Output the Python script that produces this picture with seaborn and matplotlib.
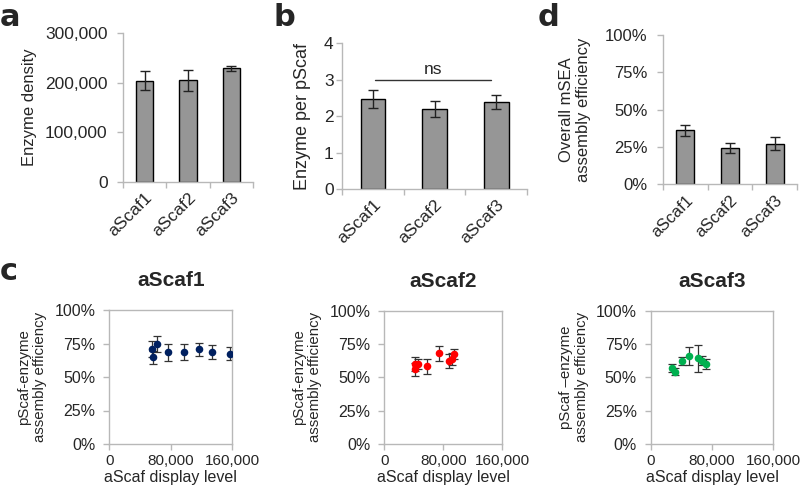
import matplotlib
matplotlib.use("Agg")
import matplotlib.pyplot as plt
import seaborn as sns
import numpy as np
import pandas as pd
from matplotlib.ticker import FuncFormatter, FixedLocator

# ---------------- data ----------------
categories = ["aScaf1", "aScaf2", "aScaf3"]

density_vals = [204000, 205000, 229000]
density_err = [19000, 21000, 5000]

per_pscaf_vals = [2.48, 2.20, 2.39]
per_pscaf_err = [0.25, 0.22, 0.20]

overall_vals = [0.36, 0.24, 0.27]
overall_err = [0.036, 0.034, 0.043]

s1_x = [55150, 57240, 61640, 76800, 97200, 117100, 133600, 156600]
s1_y = [0.707, 0.647, 0.744, 0.684, 0.687, 0.707, 0.687, 0.674]
s1_e = [0.060, 0.050, 0.060, 0.065, 0.060, 0.050, 0.055, 0.050]

s2_x = [41600, 41600, 45300, 57500, 73800, 87300, 92200, 94900]
s2_y = [0.600, 0.560, 0.600, 0.583, 0.680, 0.622, 0.635, 0.675]
s2_e = [0.050, 0.050, 0.040, 0.055, 0.057, 0.050, 0.045, 0.040]

s3_x = [27400, 31700, 40500, 50400, 62100, 66600, 71800]
s3_y = [0.568, 0.542, 0.623, 0.660, 0.643, 0.625, 0.600]
s3_e = [0.030, 0.025, 0.032, 0.065, 0.100, 0.035, 0.034]

scatter_titles = ["aScaf1", "aScaf2", "aScaf3"]
scatter_colors = ["#002060", "#ff0000", "#00b050"]
scatter_ylabels = ["pScaf-enzyme\nassembly efficiency",
                   "pScaf-enzyme\nassembly efficiency",
                   "pScaf \u2013enzyme\nassembly efficiency"]

# ---------------- style ----------------
sns.set_style("white")
plt.rcParams["font.family"] = ["Liberation Sans", "DejaVu Sans"]
SPINE = "#b8b8b8"
BAR = "#969696"

fig = plt.figure(figsize=(8.0, 4.91), dpi=100)
W, H = 800.0, 491.0


def box(l, r, t, b):
    return [l / W, 1 - b / H, (r - l) / W, (b - t) / H]


def style_bar_axes(ax, fs, ypad):
    sns.despine(ax=ax)
    for sp in ["left", "bottom"]:
        ax.spines[sp].set_color(SPINE)
        ax.spines[sp].set_linewidth(1.0)
    ax.set_xlim(-0.5, 2.5)
    ax.xaxis.set_minor_locator(FixedLocator([-0.5, 0.5, 1.5, 2.5]))
    ax.tick_params(axis="x", which="minor", length=4, width=1, color=SPINE, direction="out", bottom=True)
    ax.tick_params(axis="x", which="major", length=0, pad=6, labelsize=fs)
    ax.tick_params(axis="y", which="major", length=4, width=1, color=SPINE, direction="out",
                   left=True, labelsize=fs, pad=ypad)
    for lab in ax.get_xticklabels():
        lab.set_rotation(45)
        lab.set_ha("right")
        lab.set_rotation_mode("anchor")
    ax.set_xlabel("")


def bar_panel(rect, vals, errs, ylim, yticks, fmt, ylabel, fs, ylabfs, ypad, labpad):
    ax = fig.add_axes(rect)
    df = pd.DataFrame({"cat": categories, "val": vals})
    sns.barplot(data=df, x="cat", y="val", ax=ax, color=BAR, width=0.4,
                edgecolor="black", linewidth=1.0, saturation=1, errorbar=None)
    ax.errorbar(np.arange(len(categories)), vals, yerr=errs, fmt="none",
                ecolor="#222222", elinewidth=1.0, capsize=3.5, capthick=1.0)
    ax.set_ylim(*ylim)
    ax.set_yticks(yticks)
    ax.yaxis.set_major_formatter(FuncFormatter(fmt))
    ax.set_ylabel(ylabel, fontsize=ylabfs, labelpad=labpad)
    style_bar_axes(ax, fs, ypad)
    return ax


# panel a
ax_a = bar_panel(box(123, 253, 33, 182), density_vals, density_err, (0, 300000),
                 [0, 100000, 200000, 300000], lambda v, p: f"{int(v):,}",
                 "Enzyme density", 12.5, 12, 7, 6)

# panel b
ax_b = bar_panel(box(342, 527, 43.3, 189), per_pscaf_vals, per_pscaf_err, (0, 4),
                 [0, 1, 2, 3, 4], lambda v, p: f"{int(v)}",
                 "Enzyme per pScaf", 12.5, 13, 2, 9)
ax_b.plot([0.04, 1.92], [3.0, 3.0], color="#333333", lw=1.0)
ax_b.text(0.98, 3.08, "ns", ha="center", va="bottom", fontsize=12.5)

# panel d
ax_d = bar_panel(box(663, 797, 34.7, 184.3), overall_vals, overall_err, (0, 1),
                 [0, 0.25, 0.5, 0.75, 1.0], lambda v, p: f"{int(round(v * 100))}%",
                 "Overall mSEA\nassembly efficiency", 12, 12, 7, 10)

# panel c scatter
scatter_boxes = [box(109.3, 232.3, 310, 444),
                 box(384.3, 502.3, 310.7, 444),
                 box(650.7, 773.3, 310.7, 444)]
scatter_data = [(s1_x, s1_y, s1_e), (s2_x, s2_y, s2_e), (s3_x, s3_y, s3_e)]

for rect, (xs, ys, es), col, title, ylab in zip(scatter_boxes, scatter_data,
                                                 scatter_colors, scatter_titles, scatter_ylabels):
    ax = fig.add_axes(rect)
    ax.errorbar(xs, ys, yerr=es, fmt="none", ecolor="#333333", elinewidth=0.9,
                capsize=3, capthick=0.9, zorder=2)
    df = pd.DataFrame({"x": xs, "y": ys})
    sns.scatterplot(data=df, x="x", y="y", ax=ax, color=col, s=30,
                    edgecolor=col, linewidth=0, zorder=3)
    ax.set_xlim(0, 160000)
    ax.set_ylim(0, 1)
    ax.set_xticks([0, 80000, 160000])
    ax.set_yticks([0, 0.25, 0.5, 0.75, 1.0])
    ax.xaxis.set_major_formatter(FuncFormatter(lambda v, p: f"{int(v):,}"))
    ax.yaxis.set_major_formatter(FuncFormatter(lambda v, p: f"{int(round(v * 100))}%"))
    for sp in ax.spines.values():
        sp.set_visible(True)
        sp.set_color(SPINE)
        sp.set_linewidth(1.0)
    ax.tick_params(axis="y", length=4, width=1, color=SPINE, direction="out",
                   left=True, labelsize=11.5, pad=6)
    ax.tick_params(axis="x", length=4, width=1, color=SPINE, direction="out",
                   bottom=True, labelsize=11, pad=3)
    ax.set_xlabel("aScaf display level", fontsize=11.5, labelpad=1.5)
    ax.set_ylabel(ylab, fontsize=10.8, labelpad=5)
    ax.set_title(title, fontsize=15, fontweight="bold", pad=17)

# panel letters
for x, y, s in [(0, 17, "a"), (274, 17, "b"), (538, 17, "d"), (0, 272, "c")]:
    fig.text(x / W, 1 - y / H, s, fontsize=22, fontweight="bold", ha="left", va="center",
             family=["DejaVu Sans"])

fig.savefig("out.png", dpi=100)
